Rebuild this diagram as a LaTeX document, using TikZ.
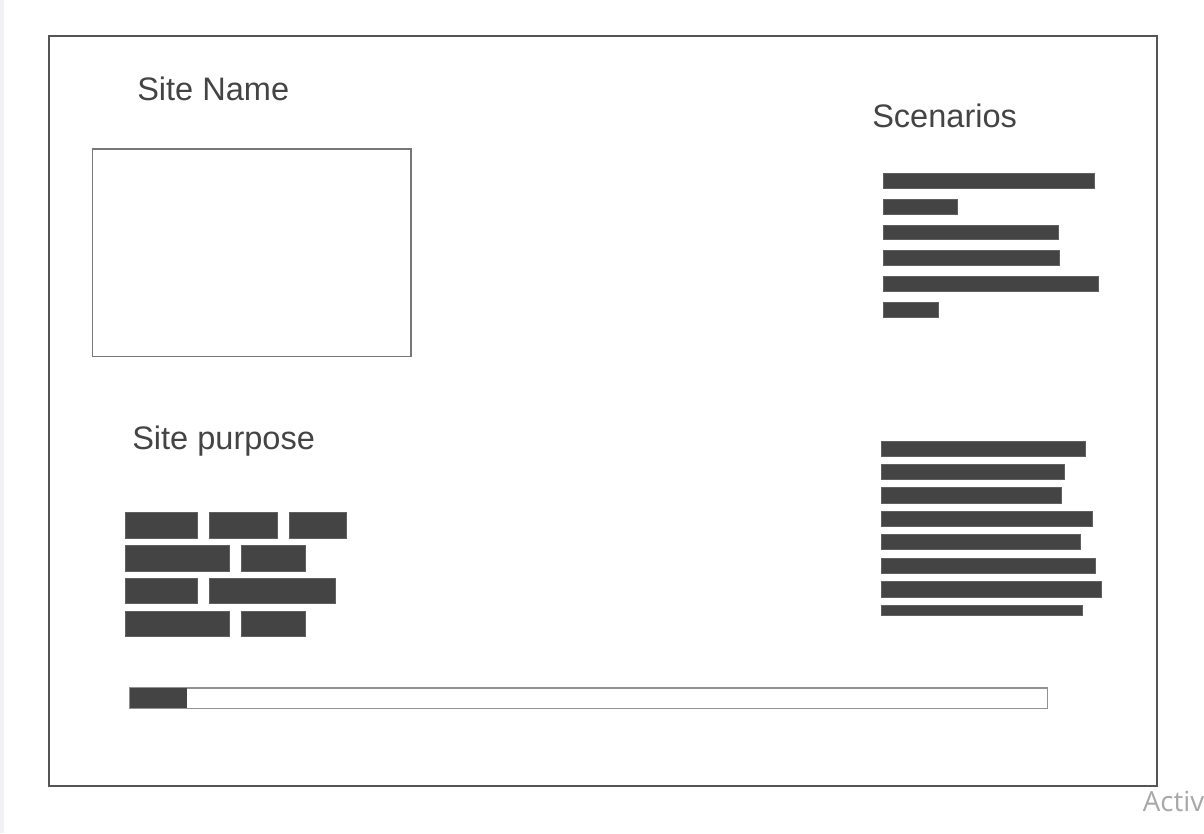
\documentclass[tikz,border=0pt]{standalone}
\usepackage{fontspec}
\setmainfont{Liberation Sans}
\newfontfamily\winfont{Open Sans}
\definecolor{barc}{HTML}{444444}
\definecolor{framec}{HTML}{555555}
\definecolor{boxc}{HTML}{777777}
\definecolor{txtc}{HTML}{444444}
\definecolor{stripc}{HTML}{F0F2F5}
\definecolor{winc}{HTML}{A8A8A8}
\tikzset{
  bar/.style={fill=barc, draw=barc!85!white, line width=0.5pt},
  heading/.style={anchor=base west, inner sep=0pt, text=txtc, font=\fontsize{24.4}{29}\selectfont},
  outline/.style={draw=boxc, line width=0.9pt},
}
\begin{document}
\begin{tikzpicture}[x=0.75pt,y=-0.75pt]
\useasboundingbox (0,0) rectangle (1204,833);
\clip (0,0) rectangle (1204,833);
\fill[white] (0,0) rectangle (1204,833);
\fill[stripc] (0,0) rectangle (3.5,833);
% outer frame
\draw[framec, line width=1pt] (49,36) rectangle (1157,786);
% headings
\node[heading] (sitename) at (137,100.7) {Site Name};
\node[heading] (scenarios) at (872,127.3) {Scenarios};
\node[heading] (purpose) at (132,449.3) {Site purpose};
% site name box
\draw[outline] (92.5,149) rectangle (411,356.7);
% scenario bars
\foreach \y/\e in {173.3/1094.3, 199.3/957.3, 225/1058.3, 250.3/1059.3, 276.3/1098, 302.3/938.3}
  \path[bar] (883.3,\y) rectangle (\e,\y+14.8);
% lower right bars
\foreach \y/\e in {441/1085.3, 464.3/1064, 487.7/1061.7, 511/1092.3, 534.3/1080.3, 558/1095.7, 581.7/1101.3}
  \path[bar] (881,\y) rectangle (\e,\y+15.2);
\path[bar] (881,605) rectangle (1082.7,615.3);
% bricks
\foreach \a/\b/\c/\d in {125/197.7/512.3/538, 209.3/277.3/512.3/538, 289.3/346.7/512.3/538,
  125/229.3/545.3/571, 241.3/305.7/545.3/571,
  125/197.7/578.3/603.7, 209.3/335.3/578.3/603.7,
  125/229.3/611/636.7, 241.3/305.7/611/636.7}
  \path[bar] (\a,\c) rectangle (\b,\d);
% progress bar
\draw[draw=boxc!80!white, line width=0.9pt, fill=white] (130,688) rectangle (1047.3,708.3);
\path[fill=barc] (130.4,688.4) rectangle (187.3,707.9);
% watermark (cut off at the page edge in the reference)
\node[anchor=base west, inner sep=0pt, text=winc, font=\winfont\fontsize{20.8}{25}\selectfont] (wm1) at (1142.5,811) {Activ};
\end{tikzpicture}
\end{document}
